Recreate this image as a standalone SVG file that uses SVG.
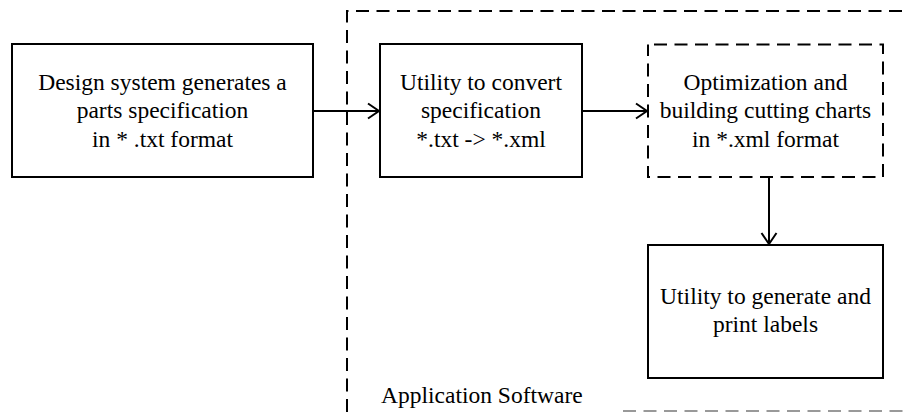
<svg xmlns="http://www.w3.org/2000/svg" width="905" height="412" viewBox="0 0 905 412" font-family="Liberation Serif, Times New Roman, serif">
<defs>
<style>
.box{fill:#fff;stroke:#000;stroke-width:2}
.dash{stroke-dasharray:13 7.5}
.t{font-size:23.5px;fill:#000;text-anchor:middle}
.c{fill:none;stroke:#000;stroke-width:2}
</style>
<marker id="arr" markerWidth="14" markerHeight="18" refX="12" refY="9" orient="auto" markerUnits="userSpaceOnUse">
<path d="M1,1.5 L12,9 L1,16.5" fill="none" stroke="#000" stroke-width="2"/>
</marker>
</defs>
<rect width="905" height="412" fill="#fff"/>
<g id="container">
<path d="M347,412 V11 H905" fill="none" stroke="#000" stroke-width="2" class="dash"/>
<path d="M623,411 H905" fill="none" stroke="#999" stroke-width="2" class="dash"/>
<text x="381" y="403" class="t" font-family="Liberation Serif" style="text-anchor:start">Application Software</text>
</g>
<g id="n1" font-family="Liberation Serif">
<rect x="12" y="44" width="301" height="133" class="box"/>
<text class="t" x="162.5" y="90">Design system generates a</text>
<text class="t" x="162.5" y="118">parts specification</text>
<text class="t" x="162.5" y="147">in * .txt format</text>
</g>
<g id="n2" font-family="Liberation Serif">
<rect x="380" y="44" width="202" height="133" class="box"/>
<text class="t" x="481" y="90">Utility to convert</text>
<text class="t" x="481" y="118">specification</text>
<text class="t" x="481" y="147">*.txt -&gt; *.xml</text>
</g>
<g id="n3" font-family="Liberation Serif">
<rect x="648" y="44.5" width="235" height="132.5" class="box dash" stroke-dashoffset="-6"/>
<text class="t" x="765.5" y="90">Optimization and</text>
<text class="t" x="765.5" y="118">building cutting charts</text>
<text class="t" x="765.5" y="147">in *.xml format</text>
</g>
<g id="n4" font-family="Liberation Serif">
<rect x="648" y="245" width="235" height="133" class="box"/>
<text class="t" x="765.5" y="304">Utility to generate and</text>
<text class="t" x="765.5" y="332">print labels</text>
</g>
<g id="connectors">
<line x1="313" y1="111" x2="379" y2="111" class="c" marker-end="url(#arr)"/>
<line x1="582" y1="111" x2="647" y2="111" class="c" marker-end="url(#arr)"/>
<line x1="769" y1="177" x2="769" y2="244" class="c" marker-end="url(#arr)"/>
</g>
</svg>
